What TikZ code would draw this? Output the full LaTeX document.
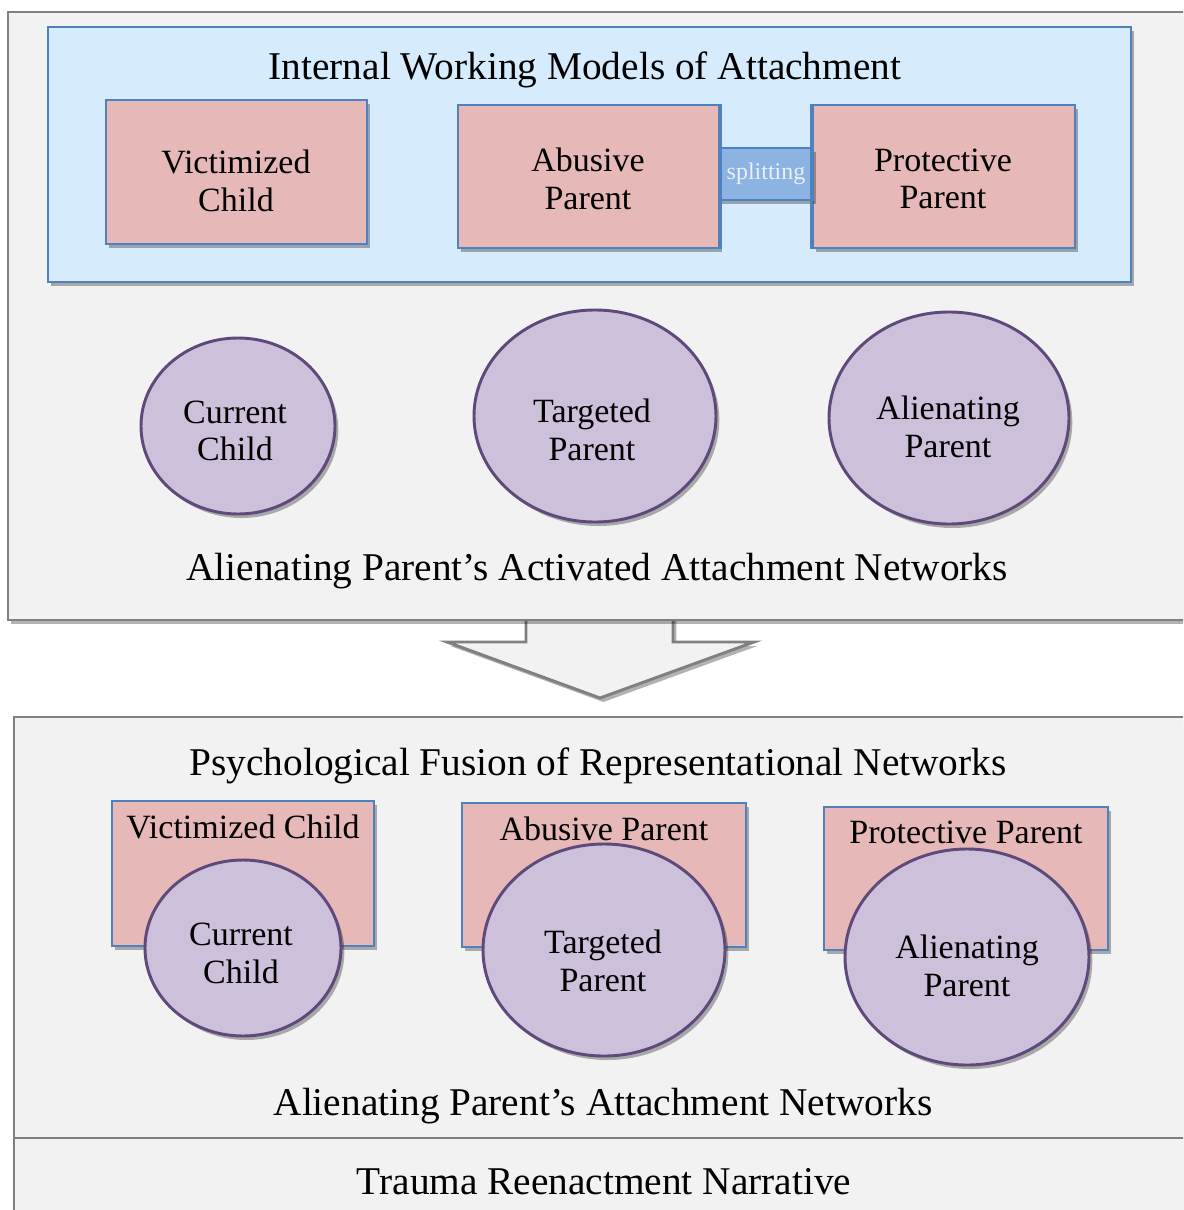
\documentclass[tikz,border=0pt]{standalone}
\usepackage{fontspec}
\setmainfont{Liberation Serif}
\usetikzlibrary{shapes.geometric,shadows}

\definecolor{panelfill}{RGB}{242,242,242}
\definecolor{panelline}{RGB}{128,128,128}
\definecolor{modelfill}{RGB}{214,236,252}
\definecolor{boxline}{RGB}{79,129,189}
\definecolor{rolefill}{RGB}{230,184,183}
\definecolor{personfill}{RGB}{204,192,218}
\definecolor{personline}{RGB}{95,73,122}
\definecolor{splitfill}{RGB}{141,179,226}

\tikzset{
  softshadow/.style={drop shadow={shadow xshift=2.5pt,shadow yshift=-3pt,opacity=0.3,fill=black}},
  panelbox/.style={draw=panelline,line width=2.2pt,fill=panelfill,softshadow},
  rolebox/.style={draw=boxline,line width=2.2pt,fill=rolefill,softshadow},
  person/.style={ellipse,draw=personline,line width=2.2pt,fill=personfill,softshadow,inner sep=0pt},
  roletext/.style={align=center,inner sep=0pt,font=\fontsize{25.5}{28}\selectfont},
  rolelabel/.style={anchor=north,inner xsep=5pt,inner ysep=11.5pt,font=\fontsize{25.5}{28}\selectfont},
  heading/.style={font=\fontsize{29.5}{32}\selectfont}
}

\begin{document}
\begin{tikzpicture}[x=0.75pt,y=0.75pt,yscale=-1,xscale=1]
\useasboundingbox (0,0) rectangle (1183,1210);
\clip (0,0) rectangle (1183,1210);

%Shape: down arrow between the panels
\draw [panelline,line width=2.2pt,fill=panelfill,softshadow] (526,610) -- (526,642) -- (447,642) -- (600,698) -- (754,642) -- (673,642) -- (673,610) -- cycle ;

%Shape: upper panel
\draw [panelbox] (8,12) rectangle (1210,620) ;
%Shape: lower panel
\draw [panelbox] (14,717) rectangle (1210,1240) ;
%Straight Lines: divider
\draw [panelline,line width=2.2pt] (14,1138) -- (1210,1138) ;

%Shape: internal working models
\draw [draw=boxline,line width=2.2pt,fill=modelfill,softshadow] (48,27) rectangle (1131,282) ;

% Text Node
\node [heading] (iwm) at (585,70) {Internal Working Models of Attachment};

%Rectangles: upper role boxes
\node [rolebox,minimum width=195.75pt,minimum height=108pt] (vc) at (236.5,172) {};
\node [rolebox,minimum width=195.75pt,minimum height=107.25pt] (ap) at (588.5,176.5) {};
\node [rolebox,minimum width=196.5pt,minimum height=107.25pt] (pp) at (944,176.5) {};
\node [roletext] (vct) at (236,181) {Victimized\\Child};
\node [roletext] (apt) at (588,179) {Abusive\\Parent};
\node [roletext] (ppt) at (943,179) {Protective\\Parent};

%Rectangle: splitting bar
\node [draw=boxline,line width=2.2pt,fill=splitfill,softshadow,minimum width=70.5pt,minimum height=39pt,inner sep=0pt,text=white!88!boxline,font=\fontsize{18}{20}\selectfont] (split) at (766,174) {splitting};
\draw [boxline,line width=2.2pt] (ap.north east) -- (ap.south east) ;
\draw [boxline,line width=2.2pt] (pp.north west) -- (pp.south west) ;

%Ellipses: current persons
\node [person,minimum width=145.5pt,minimum height=132pt] (cc) at (238,426) {};
\node [person,minimum width=181.5pt,minimum height=159pt] (tp) at (595,416) {};
\node [person,minimum width=180pt,minimum height=159pt] (alp) at (949,418) {};
\node [roletext] (cct) at (235,431) {Current\\Child};
\node [roletext] (tpt) at (592,430) {Targeted\\Parent};
\node [roletext] (alpt) at (948,427) {Alienating\\Parent};

% Text Node
\node [heading] (activated) at (597,571) {Alienating Parent’s Activated Attachment Networks};

% Text Node
\node [heading] (fusion) at (598,766) {Psychological Fusion of Representational Networks};

%Rectangles: lower role boxes
\node [rolebox,minimum width=196.5pt,minimum height=108.75pt] (vcb) at (243,873.5) {};
\node [rolebox,minimum width=213pt,minimum height=108pt] (apb) at (604,875) {};
\node [rolebox,minimum width=213pt,minimum height=107.25pt] (ppb) at (966,878.5) {};
\node [rolelabel] (vcbl) at (vcb.north) {Victimized Child};
\node [rolelabel] (apbl) at (apb.north) {Abusive Parent};
\node [rolelabel] (ppbl) at (ppb.north) {Protective Parent};

%Ellipses: fused persons
\node [person,minimum width=147pt,minimum height=132pt] (ccb) at (243,948) {};
\node [person,minimum width=181.5pt,minimum height=159pt] (tpb) at (604,950) {};
\node [person,minimum width=183pt,minimum height=162pt] (alpb) at (967,957) {};
\node [roletext] (ccbt) at (241,953.5) {Current\\Child};
\node [roletext] (tpbt) at (603,961) {Targeted\\Parent};
\node [roletext] (alpbt) at (967,966) {Alienating\\Parent};

% Text Node
\node [heading] (networks) at (603,1106) {Alienating Parent’s Attachment Networks};
% Text Node
\node [heading] (trauma) at (604,1182) {Trauma Reenactment Narrative};

\end{tikzpicture}
\end{document}
